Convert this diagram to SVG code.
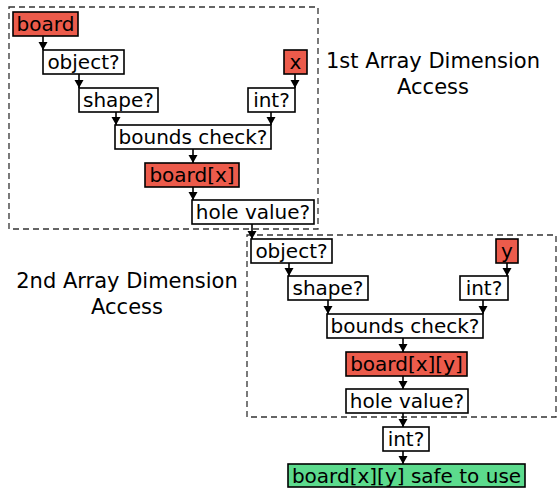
<svg xmlns="http://www.w3.org/2000/svg" width="558" height="488" viewBox="0 0 558 488">
<defs>
<marker id="ah" markerUnits="userSpaceOnUse" markerWidth="10" markerHeight="10" refX="8" refY="4.5" orient="auto"><path d="M0,0 L8,4.5 L0,9 z" fill="#000"/></marker>
<style>
.n{fill:#fff;stroke:#000;stroke-width:1.6}
.r{fill:#ec5b4b;stroke:#000;stroke-width:1.6}
.g{fill:#5cdb8d;stroke:#000;stroke-width:1.6}
text{font-family:"DejaVu Sans","Liberation Sans",sans-serif;font-size:20px;fill:#000;text-anchor:middle}
.l{font-size:21px}
.d{fill:none;stroke:#333;stroke-width:1.3;stroke-dasharray:6,4}
.c line{stroke:#000;stroke-width:1.6;marker-end:url(#ah)}
</style>
</defs>
<rect width="558" height="488" fill="#fff"/>
<g id="regions">
<rect class="d" x="9" y="7" width="309" height="222"/>
<rect class="d" x="247" y="235" width="309" height="182"/>
<text class="l" x="433" y="68">1st Array Dimension</text>
<text class="l" x="433" y="94">Access</text>
<text class="l" x="127" y="288">2nd Array Dimension</text>
<text class="l" x="127" y="314">Access</text>
</g>
<g id="board"><rect class="r" x="13" y="12" width="65" height="24"/><text x="45.5" y="31">board</text></g>
<g id="object1"><rect class="n" x="43" y="50" width="81" height="24"/><text x="83.5" y="69">object?</text></g>
<g id="x"><rect class="r" x="284" y="50" width="23" height="24"/><text x="295.5" y="69">x</text></g>
<g id="shape1"><rect class="n" x="79" y="88" width="79" height="24"/><text x="118.5" y="107">shape?</text></g>
<g id="int1"><rect class="n" x="248" y="88" width="47" height="24"/><text x="271.5" y="107">int?</text></g>
<g id="bounds1"><rect class="n" x="115" y="125" width="156" height="24"/><text x="193" y="144">bounds check?</text></g>
<g id="boardx"><rect class="r" x="145" y="163" width="94" height="24"/><text x="192" y="182">board[x]</text></g>
<g id="hole1"><rect class="n" x="192" y="200" width="122" height="24"/><text x="253" y="219">hole value?</text></g>
<g id="object2"><rect class="n" x="251" y="239" width="81" height="24"/><text x="291.5" y="258">object?</text></g>
<g id="y"><rect class="r" x="496" y="239" width="22" height="24"/><text x="507" y="258">y</text></g>
<g id="shape2"><rect class="n" x="288" y="276" width="80" height="24"/><text x="328" y="295">shape?</text></g>
<g id="int2"><rect class="n" x="460" y="276" width="48" height="24"/><text x="484" y="295">int?</text></g>
<g id="bounds2"><rect class="n" x="327" y="314" width="156" height="24"/><text x="405" y="333">bounds check?</text></g>
<g id="boardxy"><rect class="r" x="346" y="352" width="121" height="24"/><text x="406.5" y="371">board[x][y]</text></g>
<g id="hole2"><rect class="n" x="346" y="389" width="122" height="24"/><text x="407" y="408">hole value?</text></g>
<g id="int3"><rect class="n" x="383" y="427" width="46" height="24"/><text x="406" y="446">int?</text></g>
<g id="safe"><rect class="g" x="288" y="464" width="237" height="23"/><text x="406.5" y="483">board[x][y] safe to use</text></g>
<g id="connectors" class="c">
<line x1="43" y1="36" x2="43" y2="50"/>
<line x1="79" y1="74" x2="79" y2="88"/>
<line x1="116" y1="112" x2="116" y2="125"/>
<line x1="295" y1="74" x2="295" y2="88"/>
<line x1="271" y1="112" x2="271" y2="125"/>
<line x1="193" y1="149" x2="193" y2="163"/>
<line x1="193" y1="187" x2="193" y2="200"/>
<line x1="252" y1="224" x2="252" y2="239"/>
<line x1="289" y1="263" x2="289" y2="276"/>
<line x1="328" y1="300" x2="328" y2="314"/>
<line x1="507" y1="263" x2="507" y2="276"/>
<line x1="483" y1="300" x2="483" y2="314"/>
<line x1="403" y1="338" x2="403" y2="352"/>
<line x1="403" y1="376" x2="403" y2="389"/>
<line x1="403" y1="413" x2="403" y2="427"/>
<line x1="403" y1="451" x2="403" y2="464"/>
</g>
</svg>
